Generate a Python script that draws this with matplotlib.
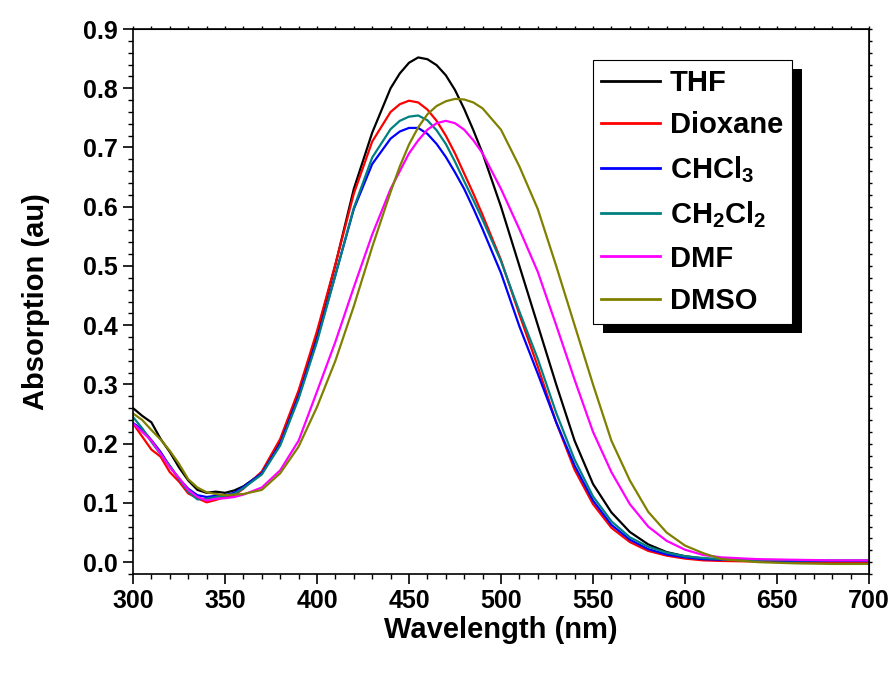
import matplotlib
matplotlib.use("Agg")
import matplotlib.pyplot as plt
from matplotlib.patches import Rectangle
from matplotlib.ticker import MultipleLocator, FormatStrFormatter

plt.rcParams['font.family'] = ['Liberation Sans', 'DejaVu Sans']
plt.rcParams['font.weight'] = 'bold'
plt.rcParams['mathtext.fontset'] = 'custom'
plt.rcParams['mathtext.rm'] = 'Liberation Sans:bold'
plt.rcParams['mathtext.default'] = 'rm'

# wavelength grid (nm)
wl = [300, 305, 310, 315, 320, 325, 330, 335, 340, 345, 350, 355, 360,
      370, 380, 390, 400, 410, 420, 430,
      440, 445, 450, 455, 460, 465, 470, 475, 480, 485, 490,
      500, 510, 520, 530, 540, 550, 560, 570, 580, 590, 600, 610, 620,
      640, 660, 680, 700]

thf = [.260, .247, .236, .208, .186, .160, .138, .122, .117, .119, .117, .121, .128,
       .150, .205, .285, .385, .502, .630, .725,
       .800, .825, .843, .852, .849, .839, .822, .797, .765, .729, .690,
       .600, .500, .400, .300, .205, .132, .084, .051, .030, .017, .010, .006, .004,
       .002, .001, .000, .000]
dioxane = [.234, .212, .190, .178, .152, .136, .116, .108, .101, .105, .110, .113, .124,
           .153, .208, .290, .390, .503, .622, .710,
           .760, .773, .779, .776, .764, .745, .720, .690, .656, .622, .586,
           .510, .418, .330, .236, .156, .098, .058, .034, .019, .011, .006, .003, .002,
           .001, .000, -.001, .000]
chcl3 = [.235, .224, .206, .186, .162, .141, .124, .113, .110, .112, .113, .117, .127,
         .150, .200, .280, .376, .485, .596, .672,
         .715, .727, .733, .733, .723, .706, .684, .658, .630, .597, .562,
         .488, .398, .318, .236, .163, .104, .063, .038, .022, .013, .008, .005, .004,
         .003, .002, .002, .002]
ch2cl2 = [.245, .226, .203, .182, .163, .140, .119, .106, .107, .110, .112, .115, .125,
          .148, .197, .276, .372, .484, .598, .683,
          .731, .745, .752, .754, .746, .729, .706, .676, .643, .611, .578,
          .508, .423, .343, .252, .173, .111, .069, .042, .026, .016, .010, .007, .005,
          .004, .003, .003, .003]
dmf = [.234, .220, .205, .183, .160, .142, .122, .110, .104, .107, .108, .110, .114,
       .126, .155, .205, .288, .372, .464, .553,
       .630, .660, .690, .712, .730, .741, .745, .741, .730, .712, .690,
       .630, .562, .490, .400, .308, .220, .152, .098, .060, .036, .021, .012, .008,
       .005, .004, .003, .003]
dmso = [.251, .240, .223, .207, .188, .166, .140, .126, .118, .115, .113, .114, .115,
        .122, .150, .195, .262, .340, .432, .532,
        .625, .668, .705, .734, .756, .770, .778, .782, .781, .776, .766,
        .730, .668, .596, .500, .400, .300, .205, .138, .085, .050, .028, .015, .005,
        .000, -.002, -.003, -.003]

series = [thf, dioxane, chcl3, ch2cl2, dmf, dmso]
labels = ['THF', 'Dioxane', 'CHCl$_3$', 'CH$_2$Cl$_2$', 'DMF', 'DMSO']
colors = ['black', 'red', 'blue', '#008080', 'magenta', '#808000']

fig = plt.figure(figsize=(8.96, 6.74), dpi=100)
ax = fig.add_axes([133/896, 1 - 574/674, (869 - 133)/896, (574 - 29)/674])

for y, lab, c in zip(series, labels, colors):
    ax.plot(wl, y, color=c, lw=1.6, label=lab)

ax.set_xlim(300, 700)
ax.set_ylim(-0.02, 0.9)
ax.xaxis.set_major_locator(MultipleLocator(50))
ax.xaxis.set_minor_locator(MultipleLocator(10))
ax.yaxis.set_major_locator(MultipleLocator(0.1))
ax.yaxis.set_minor_locator(MultipleLocator(0.02))
ax.yaxis.set_major_formatter(FormatStrFormatter('%.1f'))
ax.tick_params(which='major', direction='out', length=7, width=1.2, labelsize=18, pad=4)
ax.tick_params(which='minor', direction='out', length=3.5, width=1.0)
for s in ax.spines.values():
    s.set_linewidth(1.2)

# small ticks on top and right
top = ax.secondary_xaxis('top')
top.xaxis.set_major_locator(MultipleLocator(50))
top.xaxis.set_minor_locator(MultipleLocator(10))
top.tick_params(which='both', direction='out', length=2.5, width=1.0, labeltop=False)
right = ax.secondary_yaxis('right')
right.yaxis.set_major_locator(MultipleLocator(0.1))
right.yaxis.set_minor_locator(MultipleLocator(0.02))
right.tick_params(which='both', direction='out', length=2.5, width=1.0, labelright=False)

ax.set_xlabel('Wavelength (nm)', fontsize=21, fontweight='bold', labelpad=2)
ax.set_ylabel('Absorption (au)', fontsize=21, fontweight='bold', labelpad=24)

leg = ax.legend(loc='upper right', bbox_to_anchor=(792/896, 1 - 60/674),
                bbox_transform=fig.transFigure, borderaxespad=0,
                fontsize=21, frameon=True, fancybox=False, framealpha=1,
                edgecolor='black', handlelength=2.0, handletextpad=0.35,
                borderpad=0.3, labelspacing=0.5)
leg.get_frame().set_linewidth(0.8)
for h in leg.get_lines():
    h.set_linewidth(2.0)

# black drop shadow behind the legend
fig.canvas.draw()
bb = leg.get_window_extent()
W, H = fig.bbox.width, fig.bbox.height
shadow = Rectangle(((bb.x0 + 10) / W, (bb.y0 - 9) / H), bb.width / W, bb.height / H,
                   transform=fig.transFigure, facecolor='black', edgecolor='none',
                   zorder=4)
ax.add_artist(shadow)
leg.set_zorder(6)

fig.savefig('out.png', dpi=100)
